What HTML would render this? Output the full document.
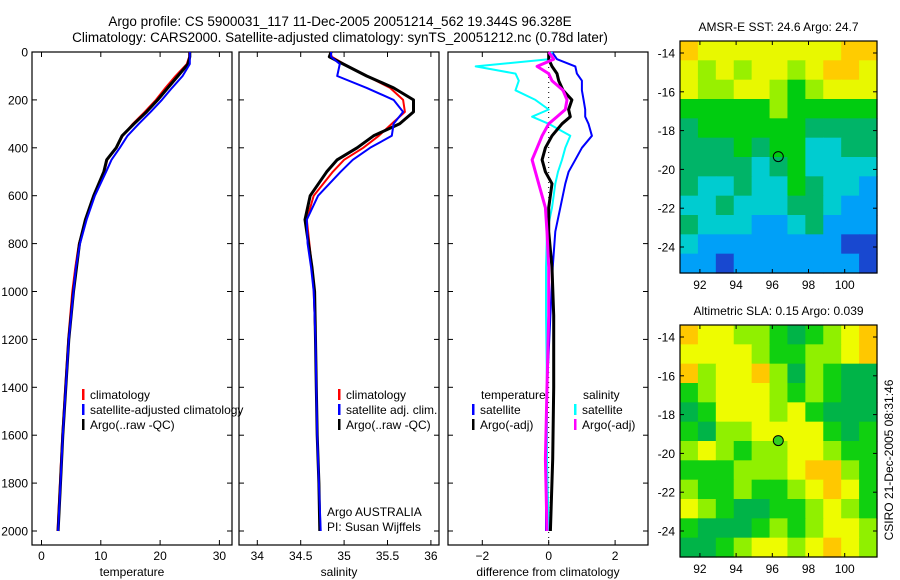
<!DOCTYPE html>
<html><head><meta charset="utf-8">
<style>
body{margin:0;background:#fff;}
svg{display:block;font-family:"Liberation Sans",sans-serif;}
</style></head><body>
<svg id="fig" width="900" height="580" viewBox="0 0 900 580" xmlns="http://www.w3.org/2000/svg">
<rect width="900" height="580" fill="#fff"/>
<text x="340" y="26" font-size="13.5" text-anchor="middle">Argo profile: CS 5900031_117 11-Dec-2005 20051214_562 19.344S 96.328E</text>
<text x="340" y="42" font-size="13.5" text-anchor="middle">Climatology: CARS2000. Satellite-adjusted climatology: synTS_20051212.nc (0.78d later)</text>
<g id="plots"></g>
<text transform="translate(893,460) rotate(-90)" font-size="12" text-anchor="middle">CSIRO 21-Dec-2005 08:31:46</text>
</svg>
<script>
// ---- data ----
const depth = [0,20,50,100,150,200,250,300,350,400,450,500,600,700,800,900,1000,1200,1400,1600,1800,2000];
const tempClim = [24.9,24.9,24.5,22.6,20.9,19.3,17.4,15.4,13.7,12.6,11.1,10.6,8.9,7.5,6.3,5.7,5.2,4.5,4.0,3.5,3.1,2.7];
const tempSat  = [25,25,25,23.8,22.0,20.3,18.4,16.4,14.5,13.2,11.8,10.9,9.0,7.6,6.5,5.8,5.4,4.6,4.1,3.6,3.2,2.8];
const tempArgo = [25,25,24.7,23,21.3,19.6,17.7,15.6,13.6,12.6,11,10.5,8.8,7.4,6.4,5.9,5.4,4.6,4.1,3.6,3.2,2.8];
const salClim = [34.84,34.86,35.0,35.26,35.53,35.68,35.7,35.55,35.4,35.22,35.0,34.87,34.65,34.57,34.6,34.63,34.65,34.67,34.68,34.69,34.71,34.72];
const salSat  = [34.85,34.85,34.95,34.92,35.26,35.57,35.68,35.57,35.55,35.3,35.1,34.96,34.7,34.57,34.58,34.62,34.65,34.67,34.68,34.69,34.71,34.73];
const salArgo = [34.85,34.83,34.99,35.26,35.57,35.8,35.8,35.64,35.34,35.15,34.92,34.8,34.61,34.55,34.59,34.63,34.66,34.67,34.68,34.69,34.71,34.72];
const diffDepth = [0,30,60,90,120,160,200,240,270,300,350,400,450,500,550,650,750,900,1100,1400,1700,2000];
const dTempSat  = [0.1,0.25,0.8,0.85,1.0,1.0,1.05,1.1,1.1,1.2,1.3,1.0,0.8,0.6,0.5,0.35,0.2,0.12,0.05,-0.05,-0.08,-0.08];
const dTempArgo = [0.0,0.0,0.1,0.25,0.3,0.43,0.7,0.6,0.65,0.4,0.1,-0.1,-0.2,-0.1,0.1,0.0,0.0,0.1,0.15,0.15,0.12,0.05];
const dSalSat   = [0.1,0.0,-2.2,-1.0,-0.9,-1.0,-0.4,0.0,-0.5,0.0,0.65,0.5,0.4,0.28,0.2,0.1,-0.05,-0.08,-0.08,-0.05,-0.05,0.0];
const dSalArgo  = [0.0,0.15,-0.35,0.0,0.1,0.43,0.55,0.5,0.25,0.0,-0.2,-0.35,-0.5,-0.4,-0.3,-0.1,-0.05,0.0,0.0,-0.05,-0.1,-0.05];
const depthTicks = [0,200,400,600,800,1000,1200,1400,1600,1800,2000];
const tempTicks = [0,10,20,30];
const salTicks = [34,34.5,35,35.5,36];
const diffTicks = [-2,0,2];
const latTicks = [-14,-16,-18,-20,-22,-24];
const lonTicks = [92,94,96,98,100];
const sstGrid = [
[7,6,6,6,6,6,6,6,6,7,7],[6,5,6,5,6,6,5,6,7,7,6],[6,5,5,6,6,5,4,5,6,6,6],
[4,4,4,4,4,5,4,4,4,4,4],[3,4,4,4,4,4,4,3,3,3,3],[3,3,3,4,3,4,4,2,2,3,3],
[3,3,3,3,2,3,4,2,2,2,2],[3,2,2,3,2,2,4,3,2,2,1],[2,2,3,2,2,2,3,3,2,1,1],
[3,2,2,2,1,1,2,3,1,1,1],[2,1,1,1,1,1,1,1,1,0,0],[1,1,0,1,1,1,1,1,1,1,0]];
const slaGrid = [
[4,3,3,2,2,1,0,1,2,3,4],[3,3,3,3,2,1,1,2,2,3,4],[4,2,3,3,4,2,0,2,1,0,0],
[1,2,3,3,3,2,1,2,1,0,0],[0,1,3,3,3,2,3,1,0,0,0],[1,0,2,2,3,3,3,3,1,0,1],
[2,3,2,1,2,2,3,3,2,1,1],[1,1,1,2,2,2,3,4,4,2,1],[2,1,1,2,1,1,2,3,4,3,1],
[3,2,1,0,0,1,1,2,3,2,1],[1,0,0,0,1,2,1,2,3,3,2],[0,0,1,2,3,3,2,3,4,3,2]];
const floatLon = 96.33, floatLat = -19.34;

// ---- drawing ----
const NS='http://www.w3.org/2000/svg';
const root=document.getElementById('plots');
function el(tag,attrs,parent,text){const e=document.createElementNS(NS,tag);for(const k in attrs)e.setAttribute(k,attrs[k]);if(text!==undefined)e.textContent=text;(parent||root).appendChild(e);return e;}
const Y0=52, YS=0.2395, BOT=545;
const yD=d=>Y0+d*YS;

function panel(name,x0,x1,xf,ticks,fmt,xlabel,showDepth){
  const g=el('g',{});
  
  
  const fr=el('rect',{x:x0,y:Y0,width:x1-x0,height:BOT-Y0,fill:'none',stroke:'#000','stroke-width':1.2},g);
  
  
  ticks.forEach(t=>{const x=xf(t);
    el('line',{x1:x,x2:x,y1:BOT,y2:BOT-5,stroke:'#000'},g);
    el('line',{x1:x,x2:x,y1:Y0,y2:Y0+5,stroke:'#000'},g);
    const tl=el('text',{x:x,y:BOT+15,'font-size':12,'text-anchor':'middle'},g,fmt(t));
    
    
  });
  depthTicks.forEach(d=>{const y=yD(d);
    el('line',{x1:x0,x2:x0+5,y1:y,y2:y,stroke:'#000'},g);
    el('line',{x1:x1,x2:x1-5,y1:y,y2:y,stroke:'#000'},g);
    if(showDepth){const tl=el('text',{x:28,y:y+4.5,'font-size':12,'text-anchor':'end'},g,String(d));
      
      }
  });
  const xt=el('text',{x:(x0+x1)/2,y:BOT+31,'font-size':12,'text-anchor':'middle'},g,xlabel);
  
  
  return g;
}
function line(g,xs,ds,xf,color,w,name){
  const pts=xs.map((v,i)=>xf(v).toFixed(1)+','+yD(ds[i]).toFixed(1)).join(' ');
  const p=el('polyline',{points:pts,fill:'none',stroke:color,'stroke-width':w,'stroke-linejoin':'round'},g);
  
  
}
function legend(g,x,y,color,label,name){
  el('rect',{x:x,y:y-9,width:2.5,height:11,fill:color},g);
  const t=el('text',{x:x+8,y:y+1,'font-size':12},g,label);
  
  
}
// panel 1
const xT=t=>41.5+t*5.93;
const p1=panel('temperature-panel',32,232,xT,tempTicks,String,'temperature',true);
line(p1,tempClim,depth,xT,'#f00',2,'temp-climatology-line');
line(p1,tempArgo,depth,xT,'#000',3,'temp-argo-line');
line(p1,tempSat,depth,xT,'#00f',2,'temp-satellite-line');
legend(p1,82,398,'#f00','climatology','legend-climatology');
legend(p1,82,413,'#00f','satellite-adjusted climatology','legend-satellite');
legend(p1,82,428,'#000','Argo(..raw -QC)','legend-argo');
// panel 2
const xS=s=>257.3+(s-34)*86.8;
const p2=panel('salinity-panel',239,439,xS,salTicks,String,'salinity',false);
line(p2,salClim,depth,xS,'#f00',2,'sal-climatology-line');
line(p2,salArgo,depth,xS,'#000',3,'sal-argo-line');
line(p2,salSat,depth,xS,'#00f',2,'sal-satellite-line');
legend(p2,338,398,'#f00','climatology','legend-climatology');
legend(p2,338,413,'#00f','satellite adj. clim.','legend-satellite');
legend(p2,338,428,'#000','Argo(..raw -QC)','legend-argo');
const a1=el('text',{x:327,y:516,'font-size':12},p2,'Argo AUSTRALIA');


const a2=el('text',{x:327,y:531,'font-size':12},p2,'PI: Susan Wijffels');


// panel 3
const xDf=d=>548.7+d*33.2;
const p3=panel('difference-panel',448,648,xDf,diffTicks,t=>t<0?'\u2212'+(-t):String(t),'difference from climatology',false);
el('line',{x1:xDf(0),x2:xDf(0),y1:Y0,y2:BOT,stroke:'#000','stroke-dasharray':'1,4'},p3);
line(p3,dTempSat,diffDepth,xDf,'#00f',2,'temp-diff-satellite-line');
line(p3,dSalSat,diffDepth,xDf,'#0ff',2,'sal-diff-satellite-line');
line(p3,dTempArgo,diffDepth,xDf,'#000',3,'temp-diff-argo-line');
line(p3,dSalArgo,diffDepth,xDf,'#f0f',3,'sal-diff-argo-line');
const lt=el('text',{x:481,y:399,'font-size':12},p3,'temperature');


const ls=el('text',{x:583,y:399,'font-size':12},p3,'salinity');


legend(p3,472,413,'#00f','satellite','legend-temp-satellite');
legend(p3,472,428,'#000','Argo(-adj)','legend-temp-argo');
legend(p3,574,413,'#0ff','satellite','legend-sal-satellite');
legend(p3,574,428,'#f0f','Argo(-adj)','legend-sal-argo');

// maps
const sstColors=['#1848d0','#00a0f8','#00ccd0','#00b468','#00cc10','#98f000','#e8f800','#ffcc00'];
const slaColors=['#00b448','#10d010','#90f000','#eefc00','#ffc800'];
function mapPanel(name,top,bottom,grid,colors,title,dotFill){
  const g=el('g',{});
  
  
  const L=680,R=877;
  const lon0=90.9, lonS=18.1;
  const lat14y = top+12, latS=19.4;
  const xL=lo=>L+(lo-lon0)*lonS;
  const yL=la=>lat14y+(-14-la)*latS;
  const rows=grid.length, cols=grid[0].length;
  const cw=(R-L)/cols, ch=(bottom-top)/rows;
  grid.forEach((row,r)=>row.forEach((v,c)=>{
    const cell=el('rect',{x:L+c*cw,y:top+r*ch,width:cw+0.6,height:ch+0.6,fill:colors[v]},g);
    
    
  }));
  el('rect',{x:L,y:top,width:R-L,height:bottom-top,fill:'none',stroke:'#000','stroke-width':1.2},g);
  latTicks.forEach(la=>{const y=yL(la);
    el('line',{x1:L,x2:L+4,y1:y,y2:y,stroke:'#000'},g);
    el('line',{x1:R,x2:R-4,y1:y,y2:y,stroke:'#000'},g);
    const t=el('text',{x:675,y:y+4.5,'font-size':12,'text-anchor':'end'},g,'-'+(-la));
    
    
  });
  lonTicks.forEach(lo=>{const x=xL(lo);
    el('line',{x1:x,x2:x,y1:bottom,y2:bottom-4,stroke:'#000'},g);
    el('line',{x1:x,x2:x,y1:top,y2:top+4,stroke:'#000'},g);
    const t=el('text',{x:x,y:bottom+16,'font-size':12,'text-anchor':'middle'},g,String(lo));
    
    
  });
  const tt=el('text',{x:(L+R)/2,y:top-10,'font-size':12,'text-anchor':'middle'},g,title);
  
  
  const c=el('circle',{cx:xL(floatLon),cy:yL(floatLat),r:5,fill:dotFill,stroke:'#000','stroke-width':1},g);
  
  
}
mapPanel('sst-map',41,273,sstGrid,sstColors,'AMSR-E SST: 24.6 Argo: 24.7','none');
mapPanel('sla-map',325,557,slaGrid,slaColors,'Altimetric SLA: 0.15 Argo: 0.039','#30d020');
</script>
</body></html>
